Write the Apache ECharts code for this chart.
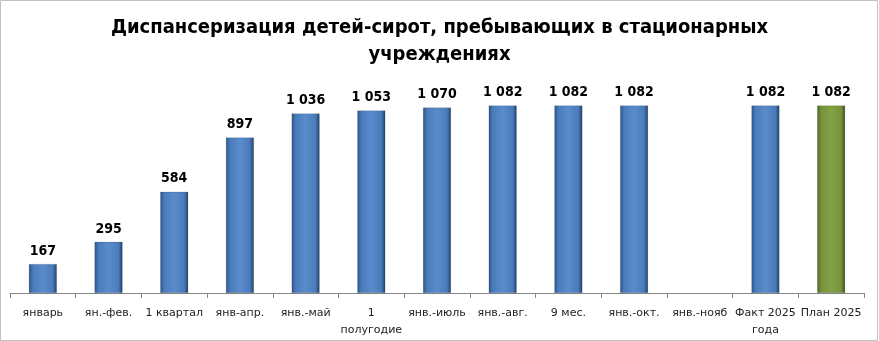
<!DOCTYPE html>
<html><head><meta charset="utf-8">
<script src="https://cdn.jsdelivr.net/npm/echarts@6/dist/echarts.min.js"></script>
<style>html,body{margin:0;padding:0;background:#fff}#c{width:879px;height:341px}</style>
</head><body><div id="c"></div>
<script>
const titleText = 'Диспансеризация детей-сирот, пребывающих в стационарных\nучреждениях';
const categories = ['январь','ян.-фев.','1 квартал','янв-апр.','янв.-май','1\nполугодие','янв.-июль','янв.-авг.','9 мес.','янв.-окт.','янв.-нояб','Факт 2025\nгода','План 2025'];
const values = [167,295,584,897,1036,1053,1070,1082,1082,1082,null,1082,1082];
const planIndex = 12;

const blue = {type:'linear',x:0,y:0,x2:1,y2:0,colorStops:[{offset:0,color:'#2d5588'},{offset:0.15,color:'#4a7cbc'},{offset:0.5,color:'#5a8bcb'},{offset:0.85,color:'#4a7cbc'},{offset:1,color:'#22416b'}]};
const green = {type:'linear',x:0,y:0,x2:1,y2:0,colorStops:[{offset:0,color:'#4f6427'},{offset:0.15,color:'#76933c'},{offset:0.5,color:'#84a245'},{offset:0.85,color:'#76933c'},{offset:1,color:'#3d4e1e'}]};

const fmt = v => { const s = String(v); return s.length > 3 ? s.slice(0, s.length-3) + ' ' + s.slice(-3) : s; };

const chart = echarts.init(document.getElementById('c'), null, {renderer:'canvas'});
chart.setOption({
  animation:false,
  title:{text:titleText,left:'center',top:9,textStyle:{fontFamily:'DejaVu Sans Condensed, sans-serif',fontWeight:'bold',fontSize:20,color:'#000',lineHeight:27}},
  graphic:[{type:'rect',shape:{x:0.5,y:0.5,width:877,height:340},style:{fill:'none',stroke:'#c0c0c0',lineWidth:1},silent:true}],
  grid:{left:10,right:15,top:85,bottom:48,containLabel:false},
  xAxis:{type:'category',data:categories,
    axisLine:{lineStyle:{color:'#868686'}},
    axisTick:{show:true,length:5,lineStyle:{color:'#868686'}},
    axisLabel:{interval:0,color:'#222',fontFamily:'DejaVu Sans, sans-serif',fontSize:11,margin:12,lineHeight:17}},
  yAxis:{type:'value',min:0,max:1200,show:false,splitLine:{show:false}},
  series:[{type:'bar',barWidth:28,
    data:values.map((v,i)=>({value:v,itemStyle:{color:i===planIndex?green:blue}})),
    itemStyle:{borderColor:'rgba(0,0,0,0.25)',borderWidth:0.5},
    label:{show:true,position:'top',distance:6,formatter:p=>p.value==null?'':fmt(p.value),fontFamily:'DejaVu Sans Condensed, sans-serif',fontWeight:'bold',fontSize:14,color:'#000'}
  }]
});
</script></body></html>
